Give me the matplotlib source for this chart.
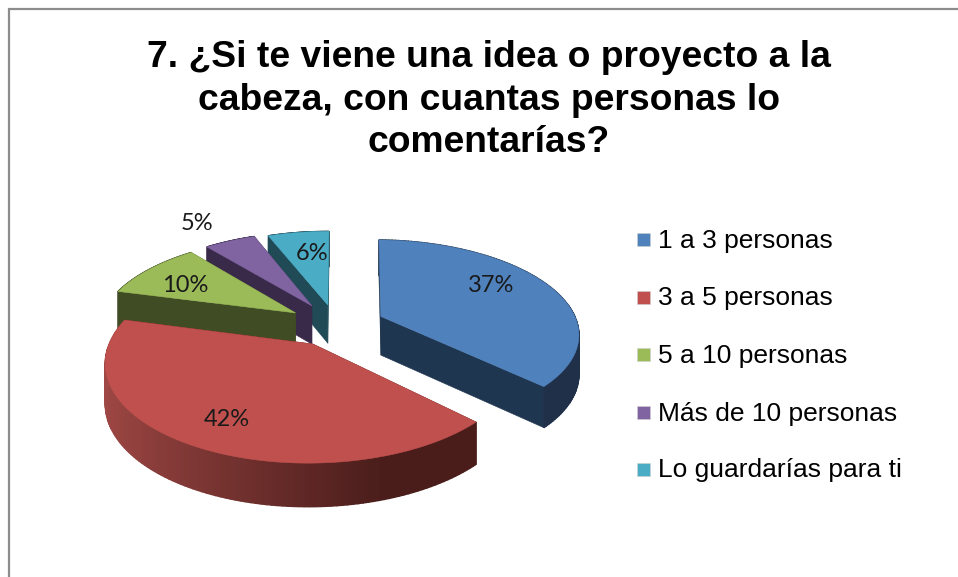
import numpy as np
import matplotlib
matplotlib.use("Agg")
import matplotlib.pyplot as plt
from matplotlib.colors import to_rgb
from matplotlib.patches import Polygon, Rectangle

title = "7. ¿Si te viene una idea o proyecto a la\ncabeza, con cuantas personas lo\ncomentarías?"
categories = ["1 a 3 personas", "3 a 5 personas", "5 a 10 personas",
              "Más de 10 personas", "Lo guardarías para ti"]
values = [37, 42, 10, 5, 6]
colors = ["#4F81BD", "#C0504D", "#9BBB59", "#8064A2", "#4BACC6"]
side_left = ["#1F3650", "#A04845", "#404C24", "#3A2A4A", "#1F4A56"]
side_right = ["#1F3048", "#4A1D1B", "#404C24", "#3A2A4A", "#1F4A56"]
label_pos = [(491, 286), (227, 419), (185, 285), (197, 223), (312, 253)]

# projection of the tilted pie, in pixels
cx, cy = 336, 325
rx, ry = 197, 92
persp = 0.167
explode = [0.25, 0.23, 0.25, 0.25, 0.23]
depth = 39
start = np.radians(1.5)


def project(X, Z):
    s = 1 / (1 + persp * Z)
    return cx + rx * X * s, cy - ry * Z * s, s


def slice_points(t0, t1, e, n=120):
    mid = (t0 + t1) / 2
    ox, oz = e * np.sin(mid), e * np.cos(mid)
    ts = np.linspace(t0, t1, n)
    return ox, oz, ox + np.sin(ts), oz + np.cos(ts)


def wall(ax, xz0, xz1, color, z, lw=0.4):
    x0, y0, s0 = project(*xz0)
    x1, y1, s1 = project(*xz1)
    quad = [(x0, y0), (x1, y1), (x1, y1 + depth * s1 ** 0.5), (x0, y0 + depth * s0 ** 0.5)]
    ax.add_patch(Polygon(quad, closed=True, fc=color, ec=color, lw=lw, zorder=z))


fig = plt.figure(figsize=(9.58, 5.77), dpi=100)
ax = fig.add_axes([0, 0, 1, 1])
ax.set_xlim(0, 958)
ax.set_ylim(577, 0)
ax.axis("off")

# frame, only top and left are in the picture
ax.plot([9.5, 9.5, 958], [577, 9, 9], color="#8C8C8C", lw=1.6, solid_joinstyle="miter")

ax.text(489, 100, title, ha="center", va="center", fontsize=26.8, fontweight="bold",
        family="Liberation Sans", color="black", linespacing=1.26)

fracs = np.array(values) / sum(values)
edges = start + np.concatenate([[0], np.cumsum(fracs)]) * (2 * np.pi - start)
# back slices first, so the nearer ones paint over them
order = sorted(range(len(values)), key=lambda i: -np.cos((edges[i] + edges[i + 1]) / 2))

for k, i in enumerate(order):
    ox, oz, Xs, Zs = slice_points(edges[i], edges[i + 1], explode[i])
    base = 3 + k * 3
    c0, c1 = np.array(to_rgb(side_left[i])), np.array(to_rgb(side_right[i]))
    # straight cut faces, then the rim
    faces = [((ox, oz), (Xs[0], Zs[0])), ((ox, oz), (Xs[-1], Zs[-1]))]
    faces.sort(key=lambda f: -(f[0][1] + f[1][1]))
    for n, f in enumerate(faces):
        wall(ax, f[0], f[1], side_left[i] if i != 1 else side_right[i], base + n * 0.1)
    for j in range(len(Xs) - 1):
        g = np.clip((Xs[j] + 1.1) / 1.3, 0, 1)
        wall(ax, (Xs[j], Zs[j]), (Xs[j + 1], Zs[j + 1]), c0 + (c1 - c0) * g, base + 1, lw=1.0)
    px, py, _ = project(np.r_[ox, Xs], np.r_[oz, Zs])
    ax.add_patch(Polygon(np.c_[px, py], closed=True, fc=colors[i], ec=colors[i], lw=0.4, zorder=base + 2))

for v, (lx, ly) in zip(values, label_pos):
    ax.text(lx, ly, f"{v}%", ha="center", va="center", fontsize=17, family="Lato",
            color="#1A1A1A", zorder=50)

legend_y = [239.5, 297, 354.5, 412, 469]
for name, col, y in zip(categories, colors, legend_y):
    ax.add_patch(Rectangle((637, y - 6.5), 13, 13, fc=col, ec="#D0D0D0", lw=0.4))
    ax.text(658, y + 1.5, name, ha="left", va="center", fontsize=19, family="Liberation Sans", color="black")

fig.savefig("out.png", dpi=100)
